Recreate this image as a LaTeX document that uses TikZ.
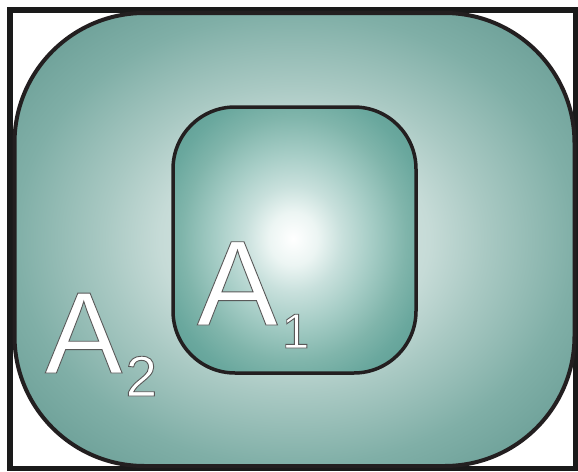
\documentclass[tikz,border=0pt]{standalone}
\usepackage{fontspec}
\newfontfamily\lsans{Liberation Sans}
\definecolor{frameblack}{HTML}{1A1A1A}
\definecolor{strokeblack}{HTML}{231F20}
\pgfdeclareradialshading{outershade}{\pgfpoint{0bp}{0bp}}{%
  color(0bp)=(rgb,255:red,232;green,240;blue,238);
  color(12bp)=(rgb,255:red,198;green,219;blue,215);
  color(17bp)=(rgb,255:red,169;green,201;blue,195);
  color(25bp)=(rgb,255:red,128;green,175;blue,167);
  color(32bp)=(rgb,255:red,106;green,158;blue,150);
  color(50bp)=(rgb,255:red,95;green,150;blue,142)}
\pgfdeclareradialshading{innershade}{\pgfpoint{-0.3bp}{0.3bp}}{%
  color(0bp)=(rgb,255:red,255;green,255;blue,255);
  color(5bp)=(rgb,255:red,236;green,245;blue,243);
  color(10bp)=(rgb,255:red,200;green,224;blue,220);
  color(16bp)=(rgb,255:red,166;green,205;blue,198);
  color(23bp)=(rgb,255:red,128;green,181;blue,171);
  color(28bp)=(rgb,255:red,106;green,168;blue,158);
  color(35bp)=(rgb,255:red,90;green,155;blue,145);
  color(50bp)=(rgb,255:red,90;green,155;blue,145)}
\newcommand\outl[1]{\color{white}\special{pdf:code 2 Tr 0.9 w 0.35 0.35 0.35 RG}#1\special{pdf:code 0 Tr}}
\tikzset{
  letter/.style={anchor=base west, inner sep=0pt, outer sep=0pt},
}
\begin{document}
\begin{tikzpicture}[x=1pt,y=-1pt]
\useasboundingbox (0,0) rectangle (578,471);
\fill[white] (0,0) rectangle (578,471);
% outer frame
\draw[frameblack, line width=5.5pt] (10,10) rectangle (576,468.5);
% outer region A2
\shadedraw[shading=outershade, draw=strokeblack, line width=4pt, rounded corners=130pt]
  (14.5,13) rectangle (574.5,466);
% inner region A1
\shadedraw[shading=innershade, draw=strokeblack, line width=3.5pt, rounded corners=62pt]
  (173,107) rectangle (416,373);
% labels
\node[letter] (a1) at (197,325) {\lsans\fontsize{121}{121}\selectfont\outl{A}};
\node[letter] (s1) at (282,348) {\lsans\fontsize{49}{49}\selectfont\outl{1}};
\node[letter] (a2) at (45,373) {\lsans\fontsize{116}{116}\selectfont\outl{A}};
\node[letter] (s2) at (125.5,396) {\lsans\fontsize{57}{57}\selectfont\outl{2}};
\end{tikzpicture}
\end{document}
